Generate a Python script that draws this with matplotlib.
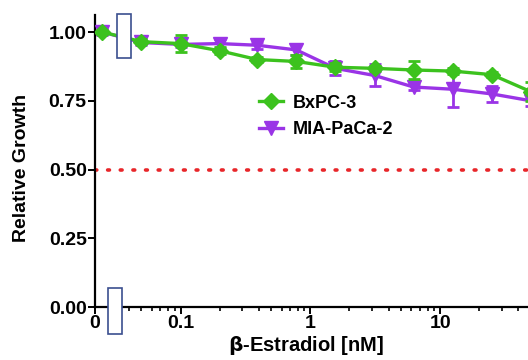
import numpy as np
import matplotlib.pyplot as plt
from matplotlib.patches import Rectangle

# data (relative growth vs beta-estradiol, nM); 0 = untreated control
conc = [0, 0.05, 0.1, 0.2, 0.39, 0.78, 1.56, 3.125, 6.25, 12.5, 25, 50]
bxpc3 = [1.00, 0.965, 0.958, 0.932, 0.900, 0.893, 0.872, 0.868, 0.862, 0.858, 0.845, 0.783]
bxpc3_err = [0.008, 0.008, 0.030, 0.012, 0.008, 0.024, 0.015, 0.010, 0.034, 0.010, 0.010, 0.035]
mia = [1.00, 0.962, 0.955, 0.958, 0.952, 0.935, 0.868, 0.842, 0.800, 0.792, 0.775, 0.750]
mia_err = [0.010, 0.008, 0.010, 0.015, 0.012, 0.020, 0.025, 0.040, 0.010, 0.065, 0.028, 0.020]
yticks = [0.0, 0.25, 0.5, 0.75, 1.0]
xticks = [0.1, 1, 10]
xticklabels = ['0.1', '1', '10']

plt.rcParams['font.family'] = ['Liberation Sans', 'DejaVu Sans']
plt.rcParams['font.weight'] = 'bold'

fig = plt.figure(figsize=(5.28, 3.6), dpi=100)
W, H = 528.0, 360.0
ax = fig.add_axes([95 / W, (360 - 307) / H, (570 - 95) / W, (307 - 15) / H])

zero_pos = 0.025   # where the control point is drawn on the log axis
x = np.array([zero_pos if c == 0 else c for c in conc])

green = '#3cc21e'
purple = '#9a34e6'

# error bars first, then lines+markers (legend shows only line+marker)
ax.errorbar(x, bxpc3, yerr=bxpc3_err, fmt='none', ecolor=green,
            capsize=4.5, capthick=2, elinewidth=2, zorder=4)
ax.errorbar(x, mia, yerr=mia_err, fmt='none', ecolor=purple,
            capsize=4.5, capthick=2, elinewidth=2, zorder=3)
ax.plot(x, bxpc3, color=green, lw=2.4, marker='D', ms=8, label='BxPC-3', zorder=4)
ax.plot(x, mia, color=purple, lw=2.4, marker='v', ms=10, label='MIA-PaCa-2', zorder=3)

ax.axhline(0.5, color='#e8262a', lw=2.6, ls=(0, (0.5, 3.0)),
           dash_capstyle='round', zorder=2)

ax.set_xscale('log')
xmin = 10 ** (-1 - 85 / 129.0)
ax.set_xlim(xmin, 100)
ax.set_ylim(0, 1.062)

ax.set_xticks([xmin] + xticks)
ax.set_xticklabels(['0'] + xticklabels)
minor = [m * 10.0 ** e for e in (-2, -1, 0, 1) for m in range(2, 10)]
minor = [v for v in minor if v >= 0.04]
ax.set_xticks(minor, minor=True)
ax.set_xticklabels([], minor=True)
ax.set_yticks(yticks)
ax.set_yticklabels(['%.2f' % v for v in yticks])

for s in ('top', 'right'):
    ax.spines[s].set_visible(False)
for s in ('left', 'bottom'):
    ax.spines[s].set_linewidth(1.6)
ax.tick_params(axis='both', which='major', length=5, width=1.4, labelsize=14, pad=1)
ax.tick_params(axis='x', which='minor', length=3, width=1.2)

ax.set_xlabel(r'$\mathbf{\beta}$-Estradiol [nM]', fontsize=14.5, fontweight='bold')
ax.set_ylabel('Relative Growth', fontsize=14, fontweight='bold')
ax.xaxis.set_label_coords((306 - 95) / 475.0, -27 / 292.0)
ax.yaxis.set_label_coords((30 - 95) / 475.0, (307 - 168) / 292.0)

ax.legend(loc='center left', bbox_to_anchor=(250 / W, 1 - 116.5 / H),
          bbox_transform=fig.transFigure, frameon=False, fontsize=13,
          handlelength=1.3, handletextpad=0.55, labelspacing=0.55, borderpad=0)

# axis break markers
for (bx, by, bw, bh) in [(117, 14, 14, 44), (108, 288, 14, 46)]:
    fig.add_artist(Rectangle((bx / W, 1 - (by + bh) / H), bw / W, bh / H,
                             transform=fig.transFigure, facecolor='white',
                             edgecolor='#3b4f8f', lw=1.2, zorder=10))

fig.savefig('out.png', dpi=100)
